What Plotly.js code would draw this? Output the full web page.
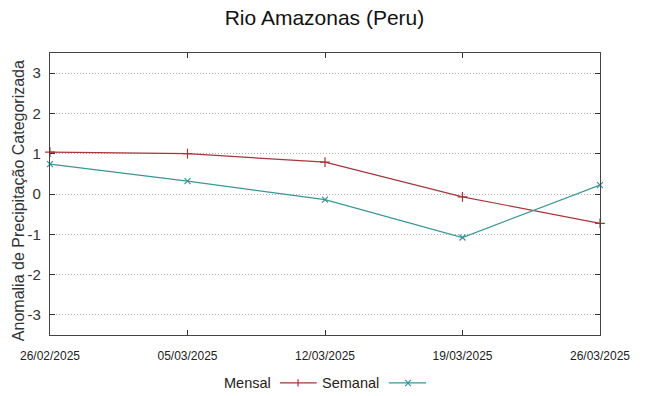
<!DOCTYPE html>
<html>
<head>
<meta charset="utf-8">
<script src="https://cdn.plot.ly/plotly-3.0.1.min.js"></script>
<style>html,body{margin:0;padding:0;background:#fff;}#chart{width:649px;height:396px;}</style>
</head>
<body>
<div id="chart"></div>
<script>
const dates = ["26/02/2025", "05/03/2025", "12/03/2025", "19/03/2025", "26/03/2025"];
const mensal = [1.04, 1.0, 0.79, -0.07, -0.73];
const semanal = [0.74, 0.32, -0.14, -1.08, 0.22];
const yTicks = [-3, -2, -1, 0, 1, 2, 3];

const colMensal = "#a8353a";
const colSemanal = "#3a9696";
const font = "Liberation Sans, Arial, sans-serif";

const traces = [
  {x: dates, y: mensal, name: "Mensal", type: "scatter", mode: "lines+markers",
   line: {color: colMensal, width: 1.2},
   marker: {symbol: "cross-thin", size: 7, color: colMensal, line: {color: colMensal, width: 1.2}},
   cliponaxis: false},
  {x: dates, y: semanal, name: "Semanal", type: "scatter", mode: "lines+markers",
   line: {color: colSemanal, width: 1.2},
   marker: {symbol: "x-thin", size: 6, color: colSemanal, line: {color: colSemanal, width: 1.2}},
   cliponaxis: false}
];

const layout = {
  width: 649, height: 396,
  margin: {l: 50, r: 49, t: 53, b: 61},
  paper_bgcolor: "#fff", plot_bgcolor: "#fff",
  showlegend: false,
  font: {family: font, color: "#222"},
  title: {text: "Rio Amazonas (Peru)", font: {size: 21, family: font, color: "#111"}, x: 0.5, xanchor: "center", y: 0.955, yanchor: "middle"},
  xaxis: {
    type: "category", range: [0, dates.length - 1],
    tickvals: dates, ticktext: dates,
    ticks: "inside", ticklen: 5, tickcolor: "#333", mirror: "ticks",
    showline: true, linecolor: "#444", linewidth: 1.2,
    showgrid: false, zeroline: false,
    tickfont: {size: 12, family: font, color: "#222"},
    ticklabelstandoff: 9,
    automargin: false
  },
  yaxis: {
    range: [-3.5, 3.5], tickvals: yTicks, ticktext: yTicks.map(String),
    ticks: "inside", ticklen: 5, tickcolor: "#333", mirror: "ticks",
    showline: true, linecolor: "#444", linewidth: 1.2,
    showgrid: true, gridcolor: "#b0b0b0", griddash: "1px,2px", gridwidth: 1,
    zeroline: false,
    tickfont: {size: 15, family: font, color: "#333"},
    ticklabelstandoff: 5,
    automargin: false
  },
  annotations: [
    {text: "Anomalia de Precipitação Categorizada", xref: "paper", yref: "paper", x: -0.058, y: 0.475, xanchor: "center", yanchor: "middle", textangle: -90, showarrow: false, font: {size: 16, family: font, color: "#333"}},
    {text: "Mensal", xref: "paper", yref: "paper", x: 0.405, y: -0.17, xanchor: "right", yanchor: "middle", showarrow: false, font: {size: 14.5, family: font, color: "#222"}},
    {text: "Semanal", xref: "paper", yref: "paper", x: 0.602, y: -0.17, xanchor: "right", yanchor: "middle", showarrow: false, font: {size: 14.5, family: font, color: "#222"}}
  ],
  shapes: [
    {type: "line", xref: "paper", yref: "paper", x0: 0.418, x1: 0.485, y0: -0.17, y1: -0.17, line: {color: colMensal, width: 1.2}},
    {type: "line", xref: "paper", yref: "paper", x0: 0.451, x1: 0.451, y0: -0.157, y1: -0.183, line: {color: colMensal, width: 1.2}},
    {type: "line", xref: "paper", yref: "paper", x0: 0.616, x1: 0.684, y0: -0.17, y1: -0.17, line: {color: colSemanal, width: 1.2}},
    {type: "line", xref: "paper", yref: "paper", x0: 0.646, x1: 0.656, y0: -0.159, y1: -0.181, line: {color: colSemanal, width: 1.2}},
    {type: "line", xref: "paper", yref: "paper", x0: 0.646, x1: 0.656, y0: -0.181, y1: -0.159, line: {color: colSemanal, width: 1.2}}
  ]
};

Plotly.newPlot("chart", traces, layout, {displayModeBar: false, staticPlot: true});
</script>
</body>
</html>
